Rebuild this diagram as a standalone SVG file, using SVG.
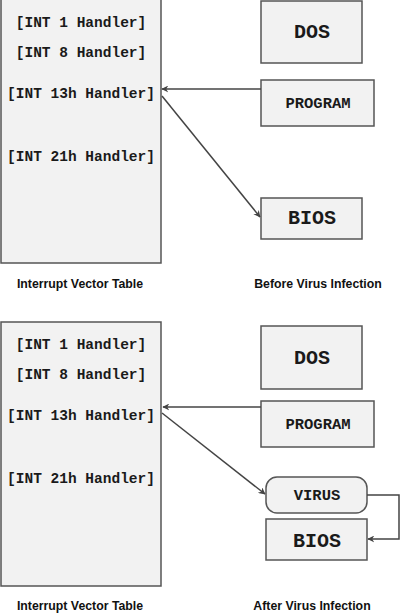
<svg xmlns="http://www.w3.org/2000/svg" width="400" height="615" viewBox="0 0 400 615">
<style>
.box{fill:#f2f2f2;stroke:#555;stroke-width:1.5}
.mono{font-family:"Liberation Mono","Courier New",monospace;font-weight:bold;fill:#1a1a1a;text-anchor:middle}
.h{font-size:14.5px}
.m{font-size:15.5px}
.big{font-size:20px}
.lbl{font-family:"Liberation Sans",Arial,sans-serif;font-weight:bold;font-size:12.3px;fill:#111;text-anchor:middle}
.con{fill:none;stroke:#444;stroke-width:1.5}
</style>
<defs>
<marker id="arr" viewBox="0 0 10 10" refX="9" refY="5" markerWidth="7" markerHeight="7" markerUnits="userSpaceOnUse" orient="auto">
<path d="M0,0 L10,5 L0,10 L3,5 Z" fill="#444"/>
</marker>
</defs>
<rect width="400" height="615" fill="#fff"/>
<g id="ivt-before">
<rect class="box" x="1" y="-1" width="160" height="264"/>
<text class="mono h" x="81" y="27">[INT 1 Handler]</text>
<text class="mono h" x="81" y="57">[INT 8 Handler]</text>
<text class="mono h" x="81" y="98">[INT 13h Handler]</text>
<text class="mono h" x="81" y="161">[INT 21h Handler]</text>
</g>
<g id="dos-before"><rect class="box" x="261" y="1" width="101" height="62"/><text class="mono big" x="312" y="38">DOS</text></g>
<g id="program-before"><rect class="box" x="261" y="80" width="113" height="46"/><text class="mono m" x="318" y="108">PROGRAM</text></g>
<g id="bios-before"><rect class="box" x="261" y="198" width="101" height="41"/><text class="mono big" x="312" y="224">BIOS</text></g>
<text class="lbl" x="80" y="288">Interrupt Vector Table</text>
<text class="lbl" x="318" y="288">Before Virus Infection</text>

<g id="ivt-after">
<rect class="box" x="1" y="322" width="160" height="264"/>
<text class="mono h" x="81" y="349">[INT 1 Handler]</text>
<text class="mono h" x="81" y="379">[INT 8 Handler]</text>
<text class="mono h" x="81" y="420">[INT 13h Handler]</text>
<text class="mono h" x="81" y="483">[INT 21h Handler]</text>
</g>
<g id="dos-after"><rect class="box" x="261" y="326" width="101" height="63"/><text class="mono big" x="312" y="364">DOS</text></g>
<g id="program-after"><rect class="box" x="261" y="401" width="113" height="46"/><text class="mono m" x="318" y="429">PROGRAM</text></g>
<g id="virus"><rect class="box" x="266" y="477" width="101" height="36" rx="11" ry="11"/><text class="mono m" x="317" y="500">VIRUS</text></g>
<g id="bios-after"><rect class="box" x="266" y="519" width="101" height="41"/><text class="mono big" x="317" y="547">BIOS</text></g>
<text class="lbl" x="80" y="610">Interrupt Vector Table</text>
<text class="lbl" x="312" y="610">After Virus Infection</text>

<g id="connectors">
<path class="con" d="M261,89 L162,89" marker-end="url(#arr)"/>
<path class="con" d="M162,96 L260,217" marker-end="url(#arr)"/>
<path class="con" d="M261,407 L163,407" marker-end="url(#arr)"/>
<path class="con" d="M162,413 L265,494" marker-end="url(#arr)"/>
<path class="con" d="M367,495 L399,495 L399,539 L368,539" marker-end="url(#arr)"/>
</g>
</svg>
